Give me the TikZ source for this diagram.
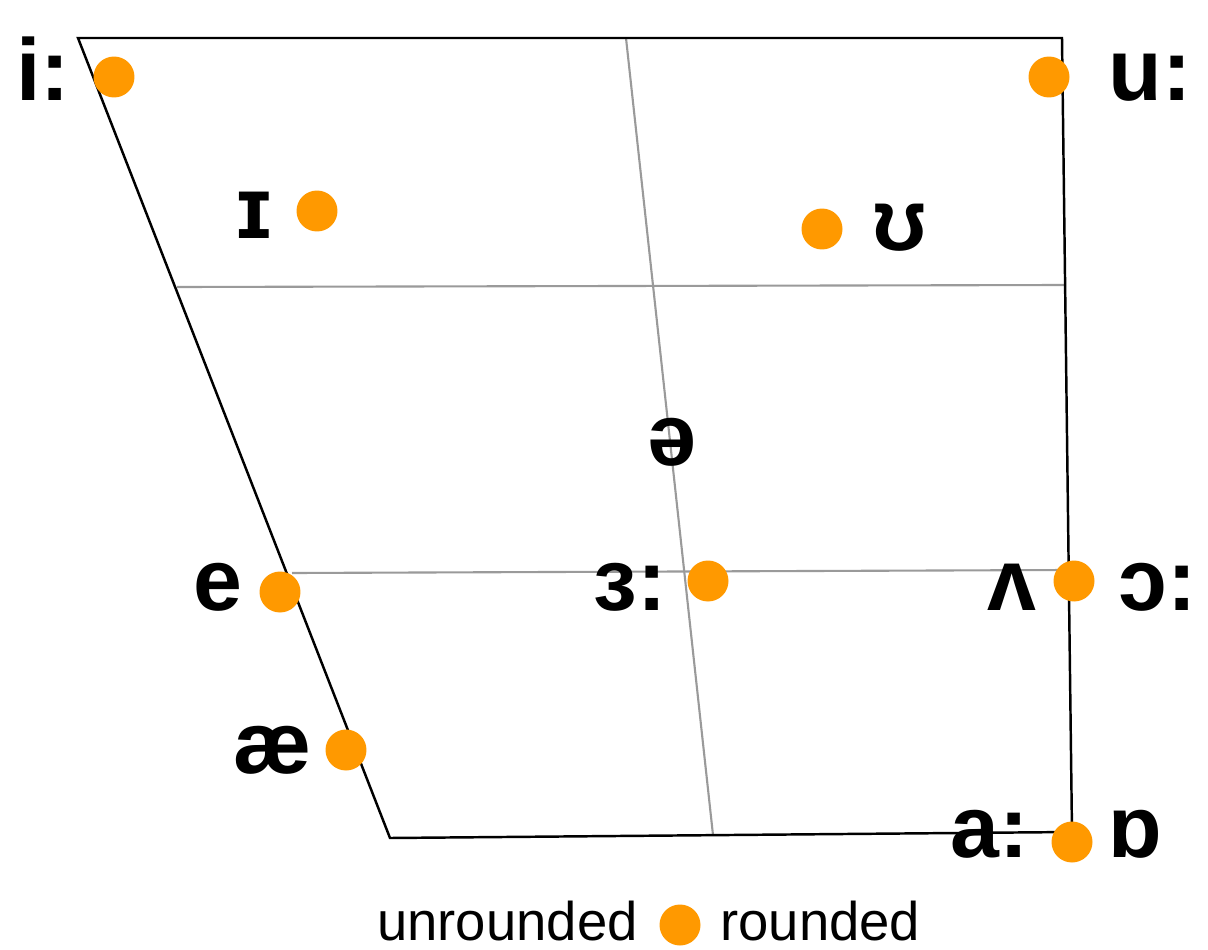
\documentclass[tikz,border=0pt]{standalone}
\usepackage{fontspec}
\setmainfont{Liberation Sans}
\usepackage{tikz}
\usetikzlibrary{positioning}
\definecolor{dotorange}{HTML}{FF9900}
\definecolor{gridgray}{HTML}{9A9A9A}
\tikzset{
    outline/.style={draw=black, line width=1.4pt},
    gridline/.style={draw=gridgray, line width=1.2pt},
    vdot/.style={circle, fill=dotorange, minimum size=0.82cm, inner sep=0pt},
    vowel/.style={font=\bfseries\fontsize{50}{50}\selectfont, inner sep=0pt, anchor=base},
    legend/.style={font=\fontsize{31}{31}\selectfont, inner sep=0pt}
}

\begin{document}
\begin{tikzpicture}[x=0.02cm, y=-0.02cm]
    \useasboundingbox (0,0) rectangle (1208,950);

    % corners of the vowel trapezium
    \coordinate (tl) at (78,38);
    \coordinate (tr) at (1062,38);
    \coordinate (br) at (1072,832);
    \coordinate (bl) at (390,838);

    % inner grid
    \coordinate (midtop) at (626,38);
    \coordinate (midbot) at (713,835);
    \coordinate (h1l) at (177,287);
    \coordinate (h1r) at (1065,285);
    \coordinate (h2l) at (292,573);
    \coordinate (h2r) at (1068,570);

    \draw [gridline] (h1l) -- (h1r);
    \draw [gridline] (h2l) -- (h2r);
    \draw [gridline] (midtop) -- (midbot);
    \draw [outline] (tl) -- (tr) -- (br) -- (bl) -- cycle;

    % rounded markers
    \node [vdot] (di)  at (114,77) {};
    \node [vdot] (dI)  at (317,211) {};
    \node [vdot] (dU)  at (822,229) {};
    \node [vdot] (du)  at (1049,77) {};
    \node [vdot] (de)  at (280,592) {};
    \node [vdot] (d3)  at (708,581) {};
    \node [vdot] (dV)  at (1074,581) {};
    \node [vdot] (dae) at (346,750) {};
    \node [vdot] (dQ)  at (1072,842) {};

    % vowel symbols
    \node [vowel] (li)  at (43,100) {i:};
    \node [vowel] (lI)  at (254,238) {ɪ};
    \node [vowel] (lU)  at (900,250) {ʊ};
    \node [vowel] (lu)  at (1150,100) {u:};
    \node [vowel] (lschwa) at (672,465) {ə};
    \node [vowel] (le)  at (218,610) {e};
    \node [vowel] (l3)  at (630,610) {ɜ:};
    \node [vowel] (lV)  at (1012,610) {ʌ};
    \node [vowel] (lO)  at (1158,610) {ɔ:};
    \node [vowel] (lae) at (273,773) {æ};
    \node [vowel] (la)  at (990,857) {a:};
    \node [vowel] (lQ)  at (1135,857) {ɒ};

    % legend
    \node [vdot] (ldot) at (680,925) {};
    \node [legend, anchor=base east] (lunr) at (638,940) {unrounded};
    \node [legend, anchor=base west] (lrnd) at (720,940) {rounded};
\end{tikzpicture}
\end{document}
